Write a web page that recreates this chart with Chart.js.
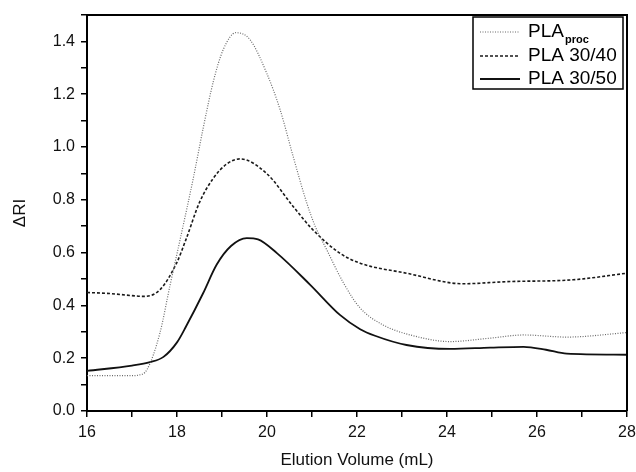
<!DOCTYPE html>
<html>
<head>
<meta charset="utf-8">
<script src="https://cdn.jsdelivr.net/npm/chart.js@4/dist/chart.umd.min.js"></script>
<style>
  html, body { margin: 0; padding: 0; background: #fff; }
  #wrap { width: 636px; height: 472px; }
</style>
</head>
<body>
<div id="wrap"><canvas id="gpc"></canvas></div>
<script>
// GPC traces, elution volume (mL) vs refractive index signal
const procX = [16.0, 16.6, 17.0, 17.15, 17.33, 17.62, 17.84, 18.07, 18.36, 18.58, 18.81, 19.03, 19.31, 19.62, 19.99, 20.29, 20.58, 20.88, 21.07, 21.33, 21.7, 22.07, 22.58, 23.25, 24.07, 24.96, 25.7, 26.66, 28.0];
const procY = [0.134, 0.134, 0.134, 0.136, 0.156, 0.295, 0.472, 0.65, 0.88, 1.07, 1.25, 1.37, 1.433, 1.407, 1.281, 1.142, 0.965, 0.79, 0.70, 0.61, 0.485, 0.39, 0.326, 0.285, 0.263, 0.276, 0.288, 0.28, 0.297];

const pla3040X = [16.0, 16.5, 17.0, 17.25, 17.62, 17.99, 18.2, 18.5, 18.8, 19.1, 19.4, 19.99, 20.58, 21.0, 21.6, 22.07, 23.1, 24.36, 25.33, 26.8, 28.0];
const pla3040Y = [0.449, 0.445, 0.437, 0.434, 0.459, 0.56, 0.65, 0.79, 0.88, 0.935, 0.955, 0.90, 0.775, 0.69, 0.60, 0.56, 0.522, 0.482, 0.49, 0.497, 0.522];

const pla3050X = [16.0, 17.0, 17.4, 17.7, 18.0, 18.2, 18.58, 18.88, 19.2, 19.55, 19.8, 20.22, 20.96, 21.62, 22.07, 22.4, 23.1, 24.07, 24.96, 25.7, 26.2, 26.66, 28.0];
const pla3050Y = [0.152, 0.172, 0.185, 0.205, 0.26, 0.32, 0.446, 0.554, 0.625, 0.655, 0.65, 0.598, 0.478, 0.364, 0.31, 0.285, 0.25, 0.235, 0.24, 0.243, 0.232, 0.217, 0.213];

const seriesNames = ['PLA_proc', 'PLA 30/40', 'PLA 30/50'];

const FONT = '"Liberation Sans", Arial, sans-serif';

const toPoints = (xs, ys) => xs.map((x, i) => ({ x, y: ys[i] }));

// top/right frame of the plot box
const frame = {
    id: 'frame',
    afterDatasetsDraw(chart) {
        const { ctx, chartArea: a } = chart;
        ctx.save();
        ctx.strokeStyle = '#000';
        ctx.lineWidth = 2;
        ctx.beginPath();
        ctx.moveTo(a.left, a.top);
        ctx.lineTo(a.right, a.top);
        ctx.lineTo(a.right, a.bottom);
        ctx.stroke();
        ctx.restore();
    }
};

// boxed legend in the upper right, with a subscript for the first entry
const boxLegend = {
    id: 'boxLegend',
    afterDraw(chart) {
        const { ctx, chartArea: a } = chart;
        const right = a.right - 4, top = a.top + 2;
        const left = right - 150, bottom = top + 72;
        ctx.save();
        ctx.fillStyle = '#fff';
        ctx.fillRect(left, top, right - left, bottom - top);
        ctx.strokeStyle = '#000';
        ctx.lineWidth = 1.5;
        ctx.strokeRect(left, top, right - left, bottom - top);

        const rows = [top + 15, top + 39, top + 62];
        chart.data.datasets.forEach((ds, i) => {
            const y = rows[i];
            ctx.strokeStyle = ds.borderColor;
            ctx.lineWidth = ds.borderWidth;
            ctx.setLineDash(ds.borderDash || []);
            ctx.beginPath();
            ctx.moveTo(left + 7, y);
            ctx.lineTo(left + 47, y);
            ctx.stroke();
            ctx.setLineDash([]);

            ctx.fillStyle = '#000';
            ctx.textBaseline = 'middle';
            ctx.font = '19px ' + FONT;
            const tx = left + 55;
            const parts = ds.label.split('_');
            ctx.fillText(parts[0], tx, y);
            if (parts[1]) {
                const w = ctx.measureText(parts[0]).width;
                ctx.font = 'bold 11px ' + FONT;
                ctx.fillText(parts[1], tx + w + 1, y + 8);
            }
        });
        ctx.restore();
    }
};

new Chart(document.getElementById('gpc'), {
    type: 'line',
    data: {
        datasets: [
            {
                label: seriesNames[0],
                data: toPoints(procX, procY),
                borderColor: '#6a6a6a',
                borderWidth: 1.2,
                borderDash: [1, 1.5]
            },
            {
                label: seriesNames[1],
                data: toPoints(pla3040X, pla3040Y),
                borderColor: '#1a1a1a',
                borderWidth: 1.6,
                borderDash: [3, 2]
            },
            {
                label: seriesNames[2],
                data: toPoints(pla3050X, pla3050Y),
                borderColor: '#111',
                borderWidth: 1.8
            }
        ]
    },
    options: {
        responsive: true,
        maintainAspectRatio: false,
        animation: false,
        layout: { padding: { top: 15, right: 9, left: 0, bottom: 0 } },
        elements: {
            point: { radius: 0 },
            line: { cubicInterpolationMode: 'monotone', fill: false }
        },
        plugins: {
            legend: { display: false },
            tooltip: { enabled: false }
        },
        scales: {
            x: {
                type: 'linear',
                min: 16,
                max: 28,
                afterFit: s => {
                    s.height = 61;
                    s.paddingLeft = 0;
                    s.paddingRight = 0;
                },
                border: { color: '#000', width: 2 },
                grid: { drawOnChartArea: false, drawTicks: true, tickLength: 6, color: '#000', lineWidth: 1.5 },
                ticks: {
                    stepSize: 1,
                    autoSkip: false,
                    maxRotation: 0,
                    padding: 6,
                    color: '#111',
                    font: { family: FONT, size: 16 },
                    callback: v => (Math.round(v) % 2 === 0 ? String(v) : '')
                },
                title: {
                    display: true,
                    text: 'Elution Volume (mL)',
                    color: '#111',
                    font: { family: FONT, size: 17 },
                    padding: { top: 0, bottom: 1 }
                }
            },
            y: {
                min: 0,
                max: 1.5,
                afterFit: s => {
                    s.width = 87;
                    s.paddingTop = 0;
                    s.paddingBottom = 0;
                },
                border: { color: '#000', width: 2 },
                grid: { drawOnChartArea: false, drawTicks: true, tickLength: 6, color: '#000', lineWidth: 1.5 },
                ticks: {
                    stepSize: 0.1,
                    autoSkip: false,
                    padding: 6,
                    color: '#111',
                    font: { family: FONT, size: 16 },
                    callback: v => {
                        const t = Math.round(v * 10);
                        return t % 2 === 0 && t < 15 ? (t / 10).toFixed(1) : '';
                    }
                },
                title: {
                    display: true,
                    text: 'ΔRI',
                    color: '#111',
                    font: { family: FONT, size: 17 },
                    padding: { top: 10, bottom: 0 }
                }
            }
        }
    },
    plugins: [frame, boxLegend]
});
</script>
</body>
</html>
